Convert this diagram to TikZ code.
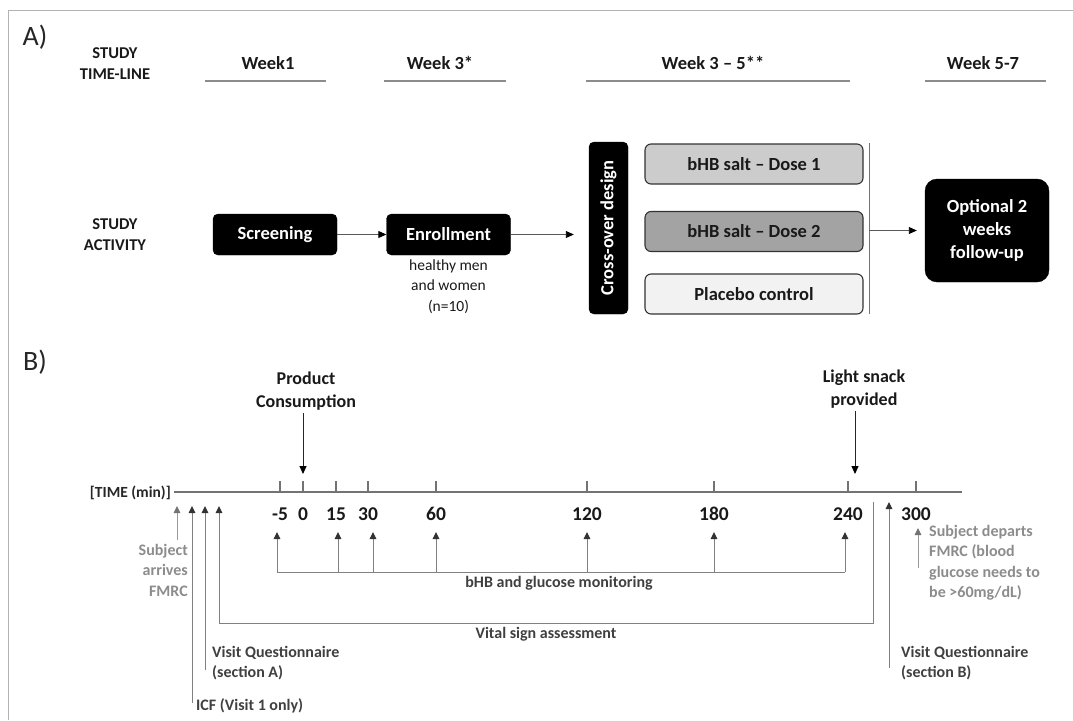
\documentclass[tikz,border=0pt]{standalone}
\usepackage{fontspec}
\setmainfont{Carlito}
\usetikzlibrary{arrows.meta,positioning}

\tikzset{
  panel/.style={font=\fontsize{28}{30}\selectfont, text=black!85},
  rowlbl/.style={font=\bfseries\fontsize{16.5}{21}\selectfont, text=black!90, align=center},
  weeklbl/.style={font=\bfseries\fontsize{18.5}{20}\selectfont, text=black!90},
  weekline/.style={draw=black!45, line width=1.8pt},
  blackbox/.style={draw=black, fill=black, rounded corners=5pt, text=white,
    font=\bfseries\fontsize{18.5}{23}\selectfont, minimum width=124pt,
    minimum height=41pt, inner sep=0pt, align=center},
  dosebox/.style={draw=black!80, line width=1.1pt, rounded corners=6pt, text=black!90,
    font=\bfseries\fontsize{18.5}{20}\selectfont, minimum width=218pt,
    minimum height=40pt, inner sep=0pt},
  note/.style={font=\fontsize{15.5}{20.5}\selectfont, text=black!90, align=center, inner sep=0pt},
  flow/.style={draw=black!65, line width=0.9pt, -{Triangle[length=8pt,width=7pt,color=black]}},
  axis/.style={draw=black!55, line width=1.2pt},
  ticklbl/.style={font=\bfseries\fontsize{19.5}{21}\selectfont, text=black!90},
  evlbl/.style={font=\bfseries\fontsize{18}{23}\selectfont, text=black!90, align=center, inner sep=0pt},
  timelbl/.style={font=\bfseries\fontsize{15.5}{17}\selectfont, text=black!85, inner sep=0pt},
  downarrow/.style={draw=black!85, line width=1pt, -{Triangle[length=8pt,width=7pt,color=black]}},
  darkarrow/.style={draw=black!50, line width=1pt, -{Triangle[length=7pt,width=6.5pt,color=black!80]}},
  lightarrow/.style={draw=black!40, line width=1pt, -{Triangle[length=7pt,width=6.5pt,color=black!55]}},
  darklbl/.style={font=\bfseries\fontsize{16}{20.5}\selectfont, text=black!75, align=left, inner sep=0pt},
  lightlbl/.style={font=\bfseries\fontsize{16}{20.5}\selectfont, text=black!45, inner sep=0pt}
}

\begin{document}
\begin{tikzpicture}[x=1pt,y=-1pt]
  \useasboundingbox (0,0) rectangle (1073,720);
  % frame
  \draw[black!30, line width=1pt] (8,720) -- (8,10.5) -- (1073,10.5);

  % A) study time-line
  \node[panel] (pa) at (35,37) {A)};
  \node[rowlbl] (tline) at (115,63.5) {STUDY\\TIME-LINE};
  \node[rowlbl] (activity) at (115,234.5) {STUDY\\ACTIVITY};
  \foreach \nm/\xt/\xa/\xb/\txt in {w1/268/205/326/Week1, w3/440/384/506/Week 3*,
      w35/713/586/850/{Week 3 -- 5**}, w57/983/925/1046/Week 5-7}{
    \node[weeklbl] (\nm) at (\xt,63) {\txt};
    \draw[weekline] (\xa,81) -- (\xb,81);
  }

  % A) study activity
  \node[blackbox] (scr) at (275,234.5) {Screening};
  \node[blackbox] (enr) at (448.5,234.5) {Enrollment};
  \node[note, below=4pt of enr] (hm) {healthy men\\and women\\(n=10)};
  \node[blackbox, rotate=90, minimum width=172pt, minimum height=39pt] (cod) at (608.5,228) {Cross-over design};
  \node[dosebox, fill=black!20] (d1) at (754,164) {bHB salt -- Dose 1};
  \node[dosebox, fill=black!36] (d2) at (754,231.5) {bHB salt -- Dose 2};
  \node[dosebox, fill=black!5] (pl) at (754,294) {Placebo control};
  \node[blackbox, rounded corners=12pt, minimum height=103pt] (fu) at (987,230.5) {Optional 2\\weeks\\follow-up};
  \coordinate (bt) at (869,143);
  \coordinate (bb) at (869,314);
  \coordinate (split) at (869,230.5);
  \draw[black!55, line width=0.8pt] (bt) -- (bb);
  \draw[flow] (scr) -- (enr);
  \draw[flow, shorten >=15pt] (enr.east) -- (enr.east -| cod.north);
  \draw[flow, shorten >=8pt] (split) -- (fu.west);

  % B) visit time-line
  \node[panel] (pb) at (35,362) {B)};
  \node[timelbl, anchor=east] (tm) at (171,493) {[TIME (min)]};
  \coordinate (axend) at (962,492);
  \draw[axis, shorten <=3pt] (tm.east |- axend) -- (axend);
  \foreach \x/\v [count=\i] in {280/-5,303/0,336/15,368/30,436/60,587/120,714/180,848/240,916/300}{
    \draw[axis] (\x,481) -- (\x,492);
    \node[ticklbl] (t\i) at (\x,514) {\v};
  }

  % events above the axis
  \node[evlbl] (prod) at (306,391) {Product\\Consumption};
  \coordinate (p0) at (303,474);
  \draw[downarrow] (prod.south -| p0) ++(0,3) -- (p0);
  \node[evlbl] (snack) at (864,389) {Light snack\\provided};
  \coordinate (s0) at (855,474);
  \draw[downarrow] (snack.south -| s0) ++(0,3) -- (s0);

  % bHB and glucose monitoring
  \foreach \x [count=\i] in {277,338,373,436,587,714,845}{
    \coordinate (mon\i) at (\x,572);
    \draw[darkarrow] (mon\i) -- ++(0,-40);
  }
  \draw[draw=black!50, line width=1pt] (mon1) -- (mon7);
  \node[darklbl] (monlbl) at (559,583) {bHB and glucose monitoring};

  % arrival and questionnaires
  \coordinate (arr) at (177,540);
  \draw[lightarrow] (arr) -- ++(0,-34);
  \node[lightlbl, align=right, anchor=north east] (arrlbl) at (188,544) {Subject\\arrives\\FMRC};
  \coordinate (icf) at (192,703);
  \draw[darkarrow] (icf) -- ++(0,-197);
  \node[darklbl, anchor=west] (icflbl) at (196,706) {ICF (Visit 1 only)};
  \coordinate (vqa) at (205,670);
  \draw[darkarrow] (vqa) -- ++(0,-164);
  \node[darklbl, anchor=west] (vqalbl) at (212,663) {Visit Questionnaire\\(section A)};

  % vital signs
  \coordinate (vs1) at (219,506);
  \coordinate (vs2) at (873,502);
  \draw[darkarrow, {Triangle[length=7pt,width=6.5pt,color=black!80]}-] (vs1) |- (873,623) -- (vs2);
  \node[darklbl] (vslbl) at (546,634) {Vital sign assessment};

  % end of visit
  \coordinate (vqb) at (889,668);
  \draw[darkarrow] (vqb) -- ++(0,-166);
  \node[darklbl, anchor=west] (vqblbl) at (901,663) {Visit Questionnaire\\(section B)};
  \coordinate (dep) at (918,568);
  \draw[lightarrow] (dep) -- ++(0,-40);
  \node[lightlbl, align=left, anchor=north west] (deplbl) at (929,525) {Subject departs\\FMRC (blood\\glucose needs to\\be >60mg/dL)};
\end{tikzpicture}
\end{document}
